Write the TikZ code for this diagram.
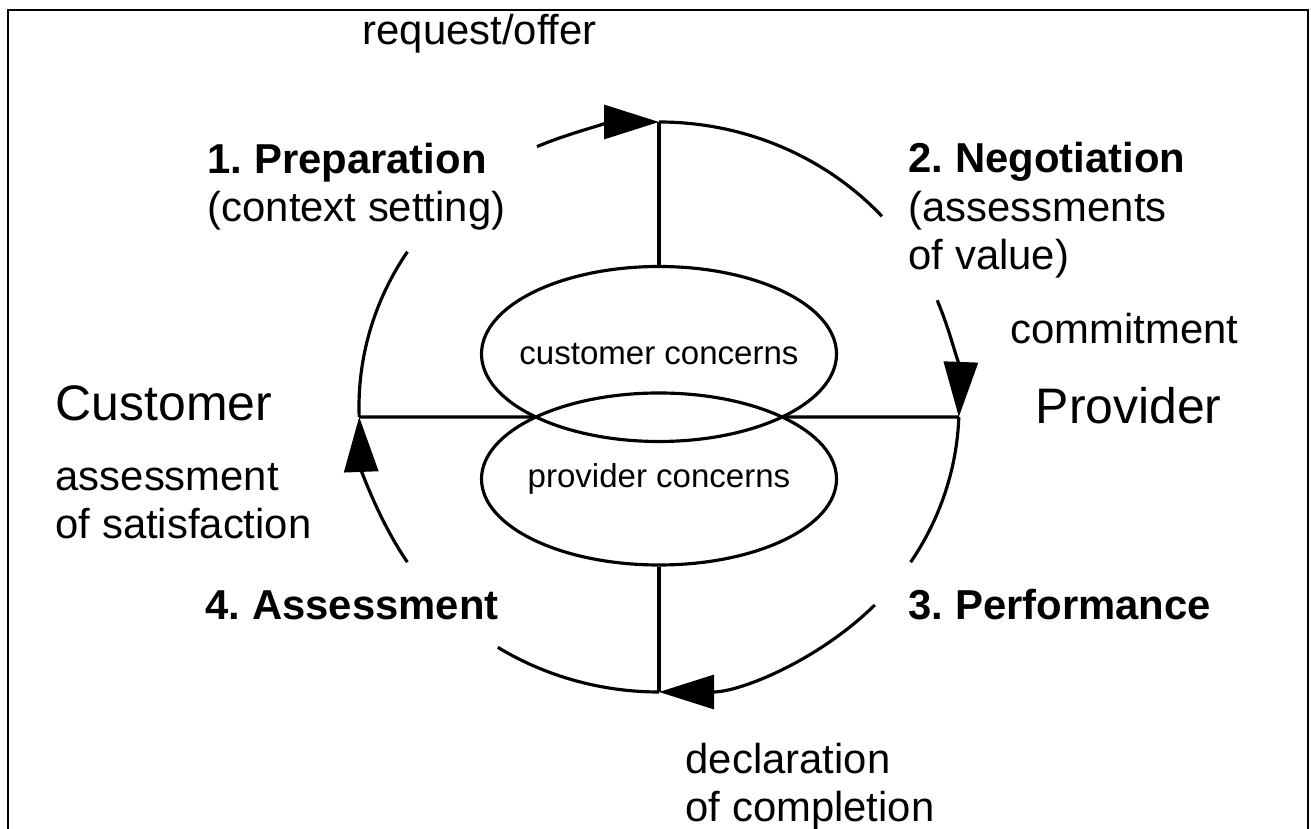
\documentclass[tikz,border=0pt]{standalone}
\usepackage{fontspec}
\setmainfont{Liberation Sans}
\usetikzlibrary{arrows.meta,positioning,shapes.geometric}

\newcommand{\cycrx}{3.00}
\newcommand{\cycry}{2.85}

\begin{document}
\frenchspacing
\begin{tikzpicture}[
    cyc/.style={line width=0.9pt},
    flow/.style={line width=0.9pt,-{Triangle[length=5.5mm,width=3.4mm]}},
    lbl/.style={anchor=base west,inner sep=0pt,align=left,font=\fontsize{11.9pt}{13.9pt}\selectfont},
    party/.style={anchor=base west,inner sep=0pt,font=\fontsize{14.2pt}{17pt}\selectfont},
    concern/.style={draw,ellipse,line width=0.9pt,minimum width=3.55cm,inner xsep=-0.2cm,inner ysep=0pt,font=\fontsize{9.4pt}{11pt}\selectfont}]
    \useasboundingbox (0,0) rectangle (13.11,8.29);
    % open frame
    \draw[line width=0.8pt] (0.08,0) -- (0.08,8.19) -- (13.08,8.19) -- (13.08,0);

    % the loop
    \coordinate (O) at (6.59,4.22);
    \path (O) ++(90:\cycrx cm and \cycry cm) coordinate (top);
    \path (O) ++(-2:\cycrx cm and \cycry cm) coordinate (right);
    \path (O) ++(-90:\cycrx cm and \cycry cm) coordinate (bot);
    \path (O) ++(182:\cycrx cm and \cycry cm) coordinate (left);

    \draw[flow] (O) ++(114:\cycrx cm and \cycry cm) arc[start angle=114,end angle=90,x radius=\cycrx cm,y radius=\cycry cm];
    \draw[cyc] (top) arc[start angle=90,end angle=42,x radius=\cycrx cm,y radius=\cycry cm];
    \draw[flow] (O) ++(22:\cycrx cm and \cycry cm) arc[start angle=22,end angle=-2,x radius=\cycrx cm,y radius=\cycry cm];
    \draw[cyc] (right) arc[start angle=-2,end angle=-33,x radius=\cycrx cm,y radius=\cycry cm];
    \draw[flow] (O) ++(-44:\cycrx cm and \cycry cm) arc[start angle=-44,end angle=-90,x radius=\cycrx cm,y radius=\cycry cm];
    \draw[cyc] (bot) arc[start angle=-90,end angle=-122.5,x radius=\cycrx cm,y radius=\cycry cm];
    \draw[flow] (O) ++(213:\cycrx cm and \cycry cm) arc[start angle=213,end angle=182,x radius=\cycrx cm,y radius=\cycry cm];
    \draw[cyc] (left) arc[start angle=182,end angle=147,x radius=\cycrx cm,y radius=\cycry cm];

    % concerns in the middle
    \node[concern,minimum height=1.75cm] (cust) at (6.59,4.75) {customer concerns};
    \node[concern,minimum height=1.72cm] (prov) at (6.59,3.50) {provider concerns};
    \coordinate (lensL) at (5.36,4.12);
    \coordinate (lensR) at (7.82,4.12);

    \draw[cyc] (top) -- (cust.north);
    \draw[cyc] (prov.south) -- (bot);
    \draw[cyc] (left) -- (lensL);
    \draw[cyc] (lensR) -- (right);

    % labels (multi-line ones sit on their last line)
    \node[lbl] (req) at (3.62,7.84) {request/offer};
    \node[lbl] (prep) at (2.07,6.07) {\textbf{1. Preparation}\\(context setting)};
    \node[lbl] (neg) at (9.08,5.59) {\textbf{2. Negotiation}\\(assessments\\of value)};
    \node[lbl] (commit) at (10.10,4.85) {commitment};
    \node[party] (customer) at (0.55,4.08) {Customer};
    \node[party] (provider) at (10.35,4.05) {Provider};
    \node[lbl] (satis) at (0.55,2.90) {assessment\\of satisfaction};
    \node[lbl] (assess) at (2.05,2.09) {\textbf{4. Assessment}};
    \node[lbl] (perf) at (9.08,2.09) {\textbf{3. Performance}};
    \node[lbl] (decl) at (6.85,0.07) {declaration\\of completion};
\end{tikzpicture}
\end{document}
